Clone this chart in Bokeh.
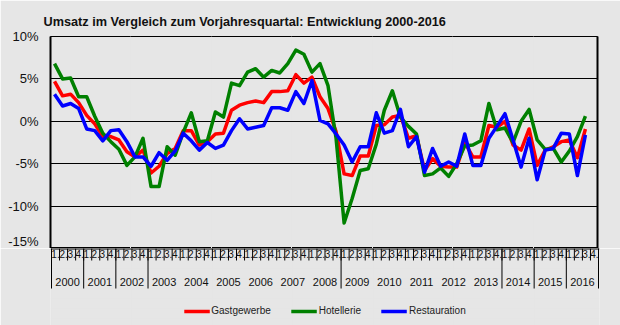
from bokeh.plotting import figure
from bokeh.layouts import column
from bokeh.models import Range1d, LinearAxis, FixedTicker, Legend, LegendItem, Grid, Span
from bokeh.core.properties import value
from bokeh.embed import file_html
from bokeh.resources import INLINE

years = [str(y) for y in range(2000, 2017)]
quarter_labels = ["1.", "2.", "3.", "4."]
series_names = ["Gastgewerbe", "Hotellerie", "Restauration"]

gastgewerbe = [4.7, 3.0, 3.2, 2.2, 0.7, -0.3, -1.8, -1.8, -2.2, -3.6, -4.2, -3.4,
               -6.1, -5.3, -3.8, -3.2, -1.1, -1.1, -2.8, -2.4, -1.5, -1.4, 1.3, 1.9,
               2.2, 2.4, 2.2, 3.5, 3.5, 3.6, 5.5, 4.5, 5.2, 2.9, 1.5, -1.2,
               -6.2, -6.4, -4.1, -4.1, -0.5, -0.4, 0.5, 0.7, -2.0, -1.7, -5.8, -4.4,
               -5.3, -5.4, -5.4, -2.5, -4.2, -4.2, -0.5, -0.7, 0.0, -2.8, -3.4, -0.9,
               -5.2, -3.4, -3.0, -2.4, -2.2, -4.3, -0.9]
hotellerie = [6.8, 5.0, 5.1, 2.9, 2.9, 0.6, -1.4, -2.4, -3.3, -5.2, -4.2, -2.0,
              -7.7, -7.7, -3.0, -4.0, -1.3, 1.0, -2.4, -2.3, 1.1, 0.5, 4.5, 4.2,
              5.8, 6.2, 5.2, 6.0, 5.7, 6.8, 8.4, 7.9, 5.8, 6.8, 4.2, -2.0,
              -12.0, -9.1, -5.8, -5.6, -2.7, 1.3, 3.6, 0.5, -0.6, -1.5, -6.4, -6.2,
              -5.5, -6.5, -5.0, -2.9, -2.8, -2.3, 2.1, -1.0, -0.8, -2.5, 0.0, 1.4,
              -2.2, -3.3, -3.2, -4.8, -3.5, -1.8, 0.6]
restauration = [3.2, 1.8, 2.1, 1.5, -0.9, -1.1, -2.3, -1.1, -1.0, -2.4, -4.2, -4.2,
                -5.3, -3.7, -4.6, -3.5, -1.4, -2.3, -3.4, -2.5, -3.2, -2.8, -1.1, 0.3,
                -0.9, -0.7, -0.5, 1.6, 1.6, 1.3, 3.5, 2.1, 4.8, 0.1, -0.3, -1.5,
                -2.8, -4.8, -3.0, -3.0, 1.0, -1.4, -1.1, 1.4, -3.0, -1.8, -6.0, -3.2,
                -5.3, -4.8, -5.3, -1.5, -5.2, -5.2, -2.0, -0.6, 0.9, -2.2, -5.4, -2.0,
                -6.9, -3.4, -3.2, -1.4, -1.5, -6.4, -1.6]
y_ticks = [-15, -10, -5, 0, 5, 10]
year_separators = [0, 1, 2, 3, 9, 14, 15, 16, 17]

FONT = "Liberation Sans"
BG = "#e6e6e6"
n_q = len(years) * 4
xs = [i + 0.5 for i in range(len(gastgewerbe))]
colors = ["#ff0000", "#008000", "#0000ff"]

# ---------------- main chart ----------------
p = figure(frame_width=547, frame_height=212, x_range=Range1d(0, n_q), y_range=Range1d(-15, 10),
           output_backend="svg", toolbar_location=None,
           x_axis_location=None, y_axis_location=None,
           min_border_left=50, min_border_right=23, min_border_top=36, min_border_bottom=0,
           background_fill_color=BG, border_fill_color=BG,
           title="Umsatz im Vergleich zum Vorjahresquartal: Entwicklung 2000-2016")
p.outline_line_color = "black"
p.outline_line_width = 1

p.title.text_font = FONT
p.title.text_font_size = "12.7px"
p.title.text_font_style = "bold"
p.title.text_color = "#111111"
p.title.align = "left"
p.title.offset = -7
p.title.standoff = 16

yaxis = LinearAxis(ticker=FixedTicker(ticks=y_ticks),
                   major_label_overrides={v: f"{v}%" for v in y_ticks})
yaxis.axis_line_width = 2
yaxis.major_tick_out = 0
yaxis.major_tick_in = 0
yaxis.minor_tick_out = 0
yaxis.minor_tick_in = 0
yaxis.major_label_standoff = 12
yaxis.major_label_text_font = FONT
yaxis.major_label_text_font_size = "13px"
yaxis.major_label_text_color = "#111111"
p.add_layout(yaxis, "left")
p.add_layout(Grid(dimension=1, ticker=yaxis.ticker, grid_line_color="black", grid_line_width=1))

raxis = LinearAxis(ticker=FixedTicker(ticks=[]))
raxis.axis_line_width = 2
raxis.major_tick_out = 0
raxis.major_label_text_font_size = "0px"
p.add_layout(raxis, "right")

for vals, c in zip([gastgewerbe, hotellerie, restauration], colors):
    p.line(xs, vals, line_color=c, line_width=3.5, line_join="round")

# ---------------- category axis + legend strip ----------------
px_unit = n_q / 547.0
p2 = figure(frame_width=549, frame_height=77,
            x_range=Range1d(-px_unit, n_q + px_unit), y_range=Range1d(-77, 0),
            output_backend="svg", toolbar_location=None,
            x_axis_location=None, y_axis_location=None,
            min_border_left=49, min_border_right=22, min_border_top=0, min_border_bottom=0,
            background_fill_color=BG, border_fill_color=BG, outline_line_color=None)
p2.add_layout(Span(location=0, dimension="width", line_color="black", line_width=2))

# quarter boundary ticks (row 1)
qb = list(range(n_q + 1))
p2.segment(x0=qb, y0=[0] * len(qb), x1=qb, y1=[-12] * len(qb), line_color="black", line_width=1)
# year separators (both rows)
ys = [4 * s for s in year_separators]
p2.segment(x0=ys, y0=[0] * len(ys), x1=ys, y1=[-40] * len(ys), line_color="black", line_width=1)

q_x = [i + 0.5 for i in range(n_q)]
q_t = [quarter_labels[i % 4] for i in range(n_q)]
p2.text(x=q_x, y=[-5.5] * n_q, text=q_t, text_align="center", text_baseline="middle",
        text_font=value(FONT), text_font_size="10px", text_color="#111111")

y_x = [4 * k + 2 for k in range(len(years))]
p2.text(x=y_x, y=[-33.5] * len(years), text=years, text_align="center", text_baseline="middle",
        text_font=value(FONT), text_font_size="11px", text_color="#111111")

# legend proxies (drawn outside the visible range)
leg_r = [p2.line(x=[-50, -49], y=[-500, -500], line_color=c, line_width=3.5) for c in colors]
legend = Legend(items=[LegendItem(label=n, renderers=[r]) for n, r in zip(series_names, leg_r)],
                orientation="horizontal", location="bottom_center")
legend.glyph_width = 26
legend.glyph_height = 10
legend.label_standoff = 2
legend.spacing = 20
legend.padding = 4
legend.margin = 5
legend.label_text_font = FONT
legend.label_text_font_size = "10px"
legend.label_text_color = "#222222"
legend.background_fill_alpha = 0
legend.border_line_alpha = 0
p2.add_layout(legend, "center")

layout = column(p, p2, spacing=0)
open("out.html", "w").write(file_html(layout, INLINE))
